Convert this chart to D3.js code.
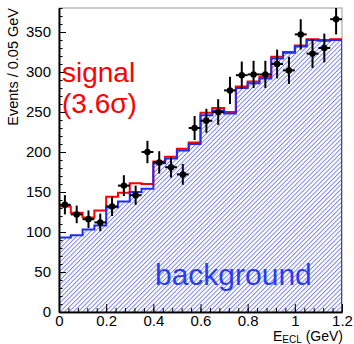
<!DOCTYPE html>
<html><head><meta charset="utf-8">
<script src="https://cdn.jsdelivr.net/npm/d3@7"></script>
<style>
html,body{margin:0;padding:0;background:#fff;}
svg{display:block;font-family:"Liberation Sans",Arial,sans-serif;}
</style></head>
<body>
<svg id="c" width="354" height="344"></svg>
<script>
// ---- data ----
const binEdges = d3.range(0, 1.2001, 0.05).map(v => +v.toFixed(2));
const binCenters = [0.025,0.075,0.125,0.175,0.225,0.275,0.325,0.375,0.425,0.475,0.525,0.575,0.625,0.675,0.725,0.775,0.825,0.875,0.925,0.975,1.025,1.075,1.125,1.175];
const dataCounts = [134,122,116,112,132,158,146,200,187,181,172,230,239,250,277,296,297,297,310,302,347,323,330,366];
const dataErrors = [12,11,11,11,12,13,12,14,14,13,13,15,15,16,17,17,17,17,18,17,19,18,18,19];
const background = [93,96,103,108,131,138,150,154,186,192,202,210,246,252,248,280,286,292,317,324,332,340,339,340];
const signalPlusBkg = [132,124,118,127,144,149,161,160,188,194,204,212,249,255,250,282,288,294,319,325,333,341,340,341];
const yMajorTicks = [0,50,100,150,200,250,300,350];
const xMajorTicks = [0,0.2,0.4,0.6,0.8,1,1.2];
const xTickLabels = ["0","0.2","0.4","0.6","0.8","1","1.2"];

// ---- layout ----
const L = 59, R = 342, T = 8, B = 312;
const svg = d3.select("#c");
const x = d3.scaleLinear().domain([0, 1.2]).range([L, R]);
const y = d3.scaleLinear().domain([0, 380]).range([B, T]);

// hatch pattern
const defs = svg.append("defs");
const pat = defs.append("pattern").attr("id","hatch").attr("patternUnits","userSpaceOnUse")
  .attr("width",3.2).attr("height",3.2).attr("patternTransform","rotate(45)");
pat.append("line").attr("x1",0.5).attr("y1",0).attr("x2",0.5).attr("y2",3.2)
  .attr("stroke","#7079ea").attr("stroke-width",0.9);
defs.append("clipPath").attr("id","plotclip").append("rect")
  .attr("x",L).attr("y",T).attr("width",R-L).attr("height",B-T);

function stepPts(vals){
  const pts = [];
  vals.forEach((v,i)=>{ pts.push([x(binEdges[i]), y(v)]); pts.push([x(binEdges[i+1]), y(v)]); });
  return pts;
}
const line = d3.line();

// frame
svg.append("rect").attr("x",L).attr("y",T).attr("width",R-L).attr("height",B-T)
  .attr("fill","none").attr("stroke","#999").attr("stroke-width",1);

const g = svg.append("g").attr("clip-path","url(#plotclip)");
const bPts = stepPts(background);
g.append("path")
  .attr("d", line([[x(0),y(0)], ...bPts, [x(1.2),y(0)]]) + "Z")
  .attr("fill","url(#hatch)").attr("stroke","none");
const rPts = stepPts(signalPlusBkg);
g.append("path")
  .attr("d", line([[x(0),y(0)], ...rPts, [x(1.2),y(0)]]))
  .attr("fill","none").attr("stroke","#ff0000").attr("stroke-width",2);
g.append("path")
  .attr("d", line([[x(0),y(0)], ...bPts]))
  .attr("fill","none").attr("stroke","#1f2cf5").attr("stroke-width",2);

// data points
const pts = svg.append("g");
binCenters.forEach((c,i)=>{
  const v = dataCounts[i], e = dataErrors[i];
  pts.append("line").attr("x1",x(c-0.025)).attr("x2",x(c+0.025)).attr("y1",y(v)).attr("y2",y(v))
    .attr("stroke","#000").attr("stroke-width",2);
  pts.append("line").attr("x1",x(c)).attr("x2",x(c)).attr("y1",Math.max(T,y(v+e))).attr("y2",y(v-e))
    .attr("stroke","#000").attr("stroke-width",2);
  pts.append("circle").attr("cx",x(c)).attr("cy",y(v)).attr("r",3.2).attr("fill","#000");
});

// axes
const fs = 15;
svg.append("g").attr("transform",`translate(${L},0)`)
  .call(d3.axisLeft(y).tickValues(yMajorTicks).tickSizeInner(-7).tickSizeOuter(0).tickPadding(8).tickFormat(d3.format("d")));
svg.append("g").attr("transform",`translate(${L},0)`)
  .call(d3.axisLeft(y).tickValues(d3.range(0,381,10)).tickSizeInner(-3.5).tickSizeOuter(0).tickFormat(""));
svg.append("g").attr("transform",`translate(0,${B})`)
  .call(d3.axisBottom(x).tickValues(xMajorTicks).tickSizeInner(-8).tickSizeOuter(0).tickPadding(3)
    .tickFormat((d,i)=>xTickLabels[i]));
svg.append("g").attr("transform",`translate(0,${B})`)
  .call(d3.axisBottom(x).tickValues(d3.range(0,1.2001,0.04)).tickSizeInner(-4).tickSizeOuter(0).tickFormat(""));
svg.selectAll(".domain").attr("stroke","#000").attr("stroke-width",1.5);
svg.selectAll(".tick line").attr("stroke","#000").attr("stroke-width",1);
svg.selectAll(".tick text").attr("font-size",fs).attr("font-family","Liberation Sans, Arial, sans-serif").attr("fill","#000");

// titles
svg.append("text").attr("transform","translate(18,8) rotate(-90)")
  .attr("text-anchor","end").attr("font-size",14.5).attr("fill","#000")
  .text("Events / 0.05 GeV");
const xt = svg.append("text").attr("x",343).attr("y",341).attr("text-anchor","end").attr("font-size",14).attr("fill","#000");
xt.append("tspan").text("E");
xt.append("tspan").attr("font-size",10).attr("dy",2).text("ECL");
xt.append("tspan").attr("dy",-2).text(" (GeV)");

// annotations
svg.append("text").attr("x",62).attr("y",82).attr("font-size",28).attr("fill","#ff0000").text("signal");
svg.append("text").attr("x",62).attr("y",113).attr("font-size",28).attr("fill","#ff0000").text("(3.6σ)");
svg.append("text").attr("x",155).attr("y",285).attr("font-size",30).attr("fill","#2b3cf0").text("background");
</script>
</body></html>
